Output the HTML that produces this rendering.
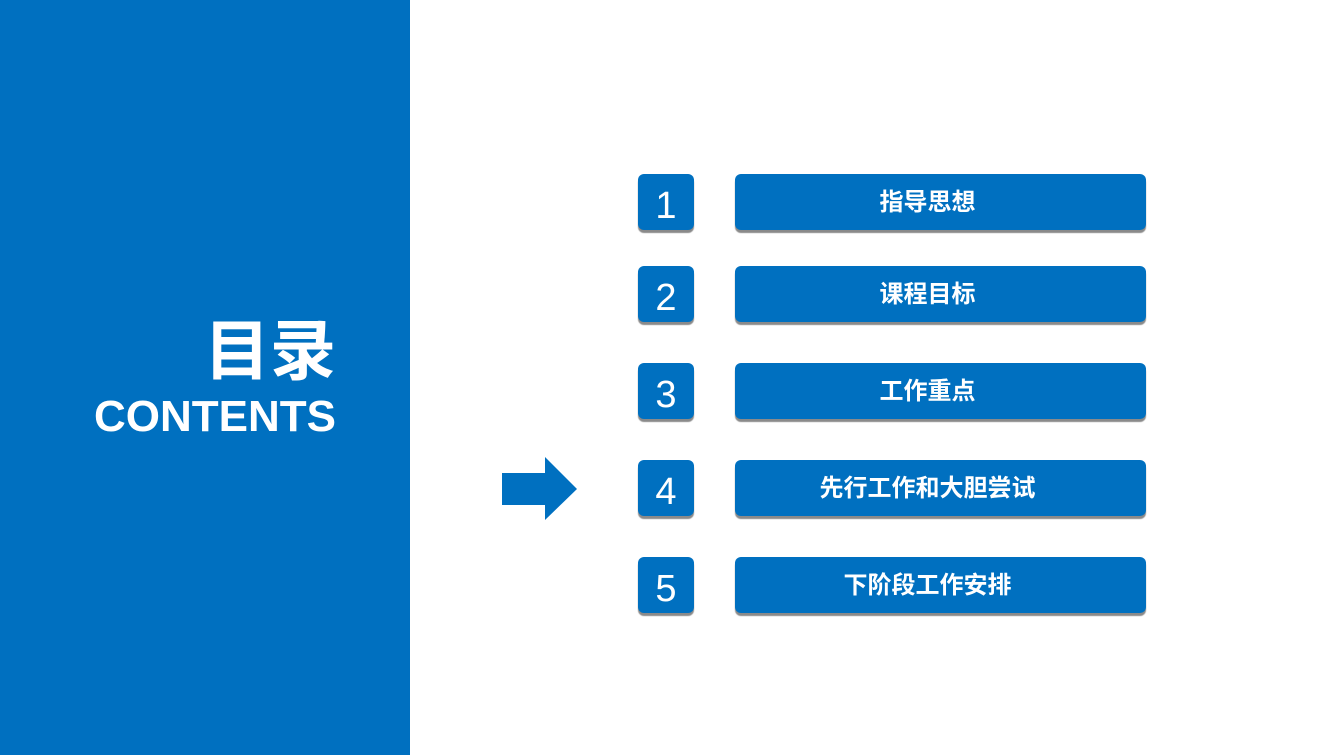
<!DOCTYPE html>
<html><head><meta charset="utf-8"><style>
body{margin:0;width:1343px;height:755px;background:#fff;position:relative;overflow:hidden;font-family:"Liberation Sans","Noto Sans CJK SC",sans-serif}
.left{position:absolute;left:0;top:0;width:410px;height:755px;background:#0070c0}
.t1{position:absolute;right:1007px;top:308px;color:#fff;font-size:66px;font-weight:bold;line-height:86px;white-space:nowrap}
.t2{position:absolute;right:1007px;top:390px;color:#fff;font-size:44px;font-weight:bold;line-height:54px;white-space:nowrap}
.n,.b{position:absolute;background:#0070c0;border-radius:6px;box-shadow:0 3px 1px #8a8a8a;color:#fff;display:flex;align-items:center;justify-content:center;height:56px}
.n{left:638px;width:56px;font-size:38px}
.n span{position:relative;top:4px}
.b{left:735px;width:411px;font-size:24px;font-weight:bold}
.b span{position:relative;top:-3px;left:-13px}
</style></head><body>
<div class="left"></div>
<div class="t1">目录</div>
<div class="t2">CONTENTS</div>
<svg style="position:absolute;left:0;top:0" width="1343" height="755"><polygon points="502,473 545,473 545,457 577,489 545,520 545,505 502,505" fill="#0070c0"/></svg>
<div class="n" style="top:174px"><span>1</span></div><div class="b" style="top:174px"><span>指导思想</span></div>
<div class="n" style="top:266px"><span>2</span></div><div class="b" style="top:266px"><span>课程目标</span></div>
<div class="n" style="top:363px"><span>3</span></div><div class="b" style="top:363px"><span>工作重点</span></div>
<div class="n" style="top:460px"><span>4</span></div><div class="b" style="top:460px"><span>先行工作和大胆尝试</span></div>
<div class="n" style="top:557px"><span>5</span></div><div class="b" style="top:557px"><span>下阶段工作安排</span></div>
</body></html>
